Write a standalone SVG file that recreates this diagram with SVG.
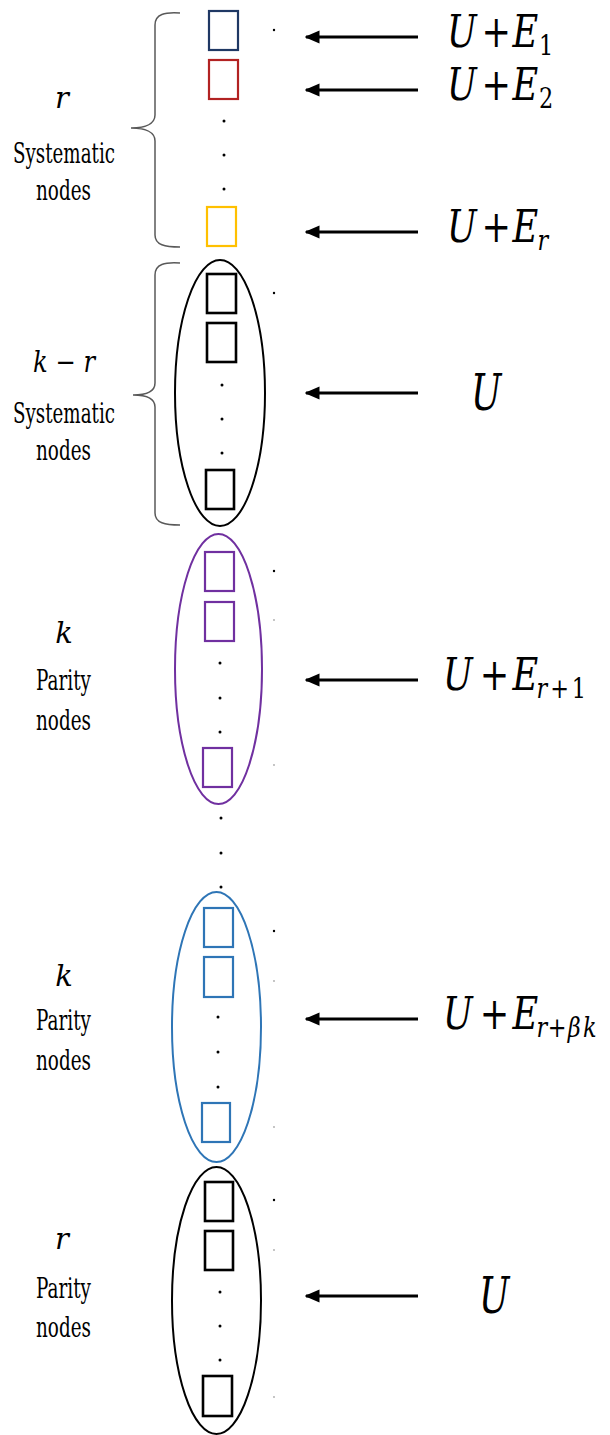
<svg xmlns="http://www.w3.org/2000/svg" width="610" height="1435" viewBox="0 0 610 1435">
<style>
.box{fill:none;stroke-width:2.2}
.blk{stroke:#000;stroke-width:2.6}
.ell{fill:none;stroke-width:2}
.brace{fill:none;stroke:#595959;stroke-width:1.5}
.dot{fill:#000}
.fdot{fill:#aaa}
text{font-family:"DejaVu Serif","Liberation Serif",serif;fill:#000}
.lab{font-size:28px}
.mi{font-style:italic}
.mr{font-style:normal}
.arr{stroke:#000;stroke-width:3;fill:none}
</style>
<defs>
<marker id="ah" markerWidth="5" markerHeight="4.4" refX="4.5" refY="2.2" orient="auto" markerUnits="strokeWidth">
<path d="M0,0 L5,2.2 L0,4.4 Z" fill="#000"/>
</marker>
</defs>
<rect width="610" height="1435" fill="#fff"/>

<g id="group1">
<path class="brace" d="M180,13 C165,12 155,14 155,25 L155,115 C155,124 145,128 131,128 C145,128 155,132 155,141 L155,235 C155,245 165,247 180,247"/>
<rect id="node-e1" class="box" x="209" y="11" width="29" height="39" stroke="#1F3864"/>
<rect id="node-e2" class="box" x="209" y="60" width="29" height="39" stroke="#B22222"/>
<rect id="node-er" class="box" x="207" y="207" width="29" height="39" stroke="#FFC000"/>
<circle class="dot" cx="224" cy="121" r="1.5"/>
<circle class="dot" cx="224" cy="155" r="1.5"/>
<circle class="dot" cx="224" cy="189" r="1.5"/>
<circle class="dot" cx="274" cy="30" r="1.2"/>
<text class="mi" x="62" y="108" font-size="29" text-anchor="middle">r</text>
<text class="lab" x="13" y="163" textLength="102" lengthAdjust="spacingAndGlyphs">Systematic</text>
<text class="lab" x="36" y="200" textLength="55" lengthAdjust="spacingAndGlyphs">nodes</text>
</g>

<g id="group2">
<path class="brace" d="M180,263 C165,262 155,264 155,275 L155,383 C155,392 145,395 133,395 C145,395 155,398 155,407 L155,513 C155,523 165,525 180,525"/>
<ellipse class="ell" cx="220" cy="393" rx="45" ry="133" stroke="#000"/>
<rect class="box blk" x="207" y="274" width="29" height="39"/>
<rect class="box blk" x="207" y="323" width="29" height="39"/>
<rect class="box blk" x="206" y="470" width="28" height="39"/>
<circle class="dot" cx="222" cy="385" r="1.5"/>
<circle class="dot" cx="222" cy="419" r="1.5"/>
<circle class="dot" cx="222" cy="453" r="1.5"/>
<circle class="dot" cx="274" cy="293" r="1.2"/>
<text x="33" y="372" font-size="29" textLength="62" lengthAdjust="spacingAndGlyphs"><tspan class="mi">k</tspan> <tspan class="mr">−</tspan> <tspan class="mi">r</tspan></text>
<text class="lab" x="13" y="423" textLength="102" lengthAdjust="spacingAndGlyphs">Systematic</text>
<text class="lab" x="36" y="460" textLength="55" lengthAdjust="spacingAndGlyphs">nodes</text>
</g>

<g id="group3">
<ellipse class="ell" cx="218.5" cy="669" rx="43.5" ry="135" stroke="#7030A0"/>
<rect class="box" x="205" y="552" width="29" height="39" stroke="#7030A0"/>
<rect class="box" x="205" y="602" width="29" height="39" stroke="#7030A0"/>
<rect class="box" x="203" y="748" width="29" height="39" stroke="#7030A0"/>
<circle class="dot" cx="220" cy="663" r="1.5"/>
<circle class="dot" cx="220" cy="698" r="1.5"/>
<circle class="dot" cx="220" cy="732" r="1.5"/>
<circle class="dot" cx="274" cy="571" r="1.2"/>
<circle class="fdot" cx="274" cy="620" r="0.9"/>
<circle class="fdot" cx="274" cy="765" r="0.9"/>
<text class="mi" x="64" y="643" font-size="29" text-anchor="middle">k</text>
<text class="lab" x="36" y="690" textLength="55" lengthAdjust="spacingAndGlyphs">Parity</text>
<text class="lab" x="36" y="730" textLength="55" lengthAdjust="spacingAndGlyphs">nodes</text>
</g>

<g id="gap-dots">
<circle class="dot" cx="221" cy="818" r="1.5"/>
<circle class="dot" cx="221" cy="853" r="1.5"/>
<circle class="dot" cx="221" cy="887" r="1.5"/>
</g>

<g id="group4">
<ellipse class="ell" cx="216.5" cy="1027" rx="44.5" ry="135" stroke="#2E75B6"/>
<rect class="box" x="204" y="908" width="29" height="39" stroke="#2E75B6"/>
<rect class="box" x="204" y="957" width="29" height="40" stroke="#2E75B6"/>
<rect class="box" x="202" y="1103" width="28" height="39" stroke="#2E75B6"/>
<circle class="dot" cx="218" cy="1017" r="1.5"/>
<circle class="dot" cx="218" cy="1052" r="1.5"/>
<circle class="dot" cx="218" cy="1087" r="1.5"/>
<circle class="dot" cx="274" cy="931" r="1.2"/>
<circle class="fdot" cx="274" cy="981" r="0.9"/>
<circle class="fdot" cx="274" cy="1127" r="0.9"/>
<text class="mi" x="64" y="986" font-size="29" text-anchor="middle">k</text>
<text class="lab" x="36" y="1030" textLength="55" lengthAdjust="spacingAndGlyphs">Parity</text>
<text class="lab" x="36" y="1070" textLength="55" lengthAdjust="spacingAndGlyphs">nodes</text>
</g>

<g id="group5">
<ellipse class="ell" cx="216.5" cy="1300.5" rx="44.5" ry="133.5" stroke="#000"/>
<rect class="box blk" x="205" y="1182" width="28" height="39"/>
<rect class="box blk" x="205" y="1231" width="28" height="39"/>
<rect class="box blk" x="203" y="1376" width="29" height="40"/>
<circle class="dot" cx="220" cy="1292" r="1.5"/>
<circle class="dot" cx="220" cy="1326" r="1.5"/>
<circle class="dot" cx="220" cy="1360" r="1.5"/>
<circle class="dot" cx="274" cy="1200" r="1.2"/>
<circle class="fdot" cx="274" cy="1250" r="0.9"/>
<circle class="fdot" cx="274" cy="1397" r="0.9"/>
<text class="mi" x="62" y="1249" font-size="29" text-anchor="middle">r</text>
<text class="lab" x="36" y="1298" textLength="55" lengthAdjust="spacingAndGlyphs">Parity</text>
<text class="lab" x="36" y="1337" textLength="55" lengthAdjust="spacingAndGlyphs">nodes</text>
</g>

<g id="connectors">
<line class="arr" x1="418" y1="37" x2="306" y2="37" marker-end="url(#ah)"/>
<line class="arr" x1="418" y1="90" x2="306" y2="90" marker-end="url(#ah)"/>
<line class="arr" x1="418" y1="232" x2="306" y2="232" marker-end="url(#ah)"/>
<line class="arr" x1="418" y1="393" x2="306" y2="393" marker-end="url(#ah)"/>
<line class="arr" x1="418" y1="680" x2="306" y2="680" marker-end="url(#ah)"/>
<line class="arr" x1="418" y1="1019" x2="306" y2="1019" marker-end="url(#ah)"/>
<line class="arr" x1="418" y1="1296" x2="306" y2="1296" marker-end="url(#ah)"/>
</g>

<g id="labels">
<text font-size="44" transform="translate(447,47) scale(0.8,1)"><tspan class="mi" x="0" y="0">U</tspan><tspan class="mr" x="43" y="0">+</tspan><tspan class="mi" x="82" y="0">E</tspan><tspan class="mr" x="115" y="8" font-size="28">1</tspan></text>
<text font-size="44" transform="translate(447,100) scale(0.8,1)"><tspan class="mi" x="0" y="0">U</tspan><tspan class="mr" x="43" y="0">+</tspan><tspan class="mi" x="82" y="0">E</tspan><tspan class="mr" x="115" y="8" font-size="28">2</tspan></text>
<text font-size="44" transform="translate(447,242) scale(0.8,1)"><tspan class="mi" x="0" y="0">U</tspan><tspan class="mr" x="43" y="0">+</tspan><tspan class="mi" x="82" y="0">E</tspan><tspan class="mi" x="113" y="8" font-size="28">r</tspan></text>
<text class="mi" font-size="50" transform="translate(471,410) scale(0.72,1)">U</text>
<text font-size="44" transform="translate(443,690) scale(0.8,1)"><tspan class="mi" x="0" y="0">U</tspan><tspan class="mr" x="46" y="0">+</tspan><tspan class="mi" x="87" y="0">E</tspan><tspan class="mi" x="117" y="8" font-size="28">r</tspan><tspan class="mr" x="134" y="8" font-size="28">+</tspan><tspan class="mr" x="161" y="8" font-size="28">1</tspan></text>
<text font-size="44" transform="translate(443,1029) scale(0.8,1)"><tspan class="mi" x="0" y="0">U</tspan><tspan class="mr" x="46" y="0">+</tspan><tspan class="mi" x="87" y="0">E</tspan><tspan class="mi" x="117" y="8" font-size="28">r</tspan><tspan class="mr" x="131" y="8" font-size="28">+</tspan><tspan class="mi" x="156" y="8" font-size="28">β</tspan><tspan class="mi" x="175" y="8" font-size="28">k</tspan></text>
<text class="mi" font-size="50" transform="translate(479,1313) scale(0.72,1)">U</text>
</g>
</svg>
